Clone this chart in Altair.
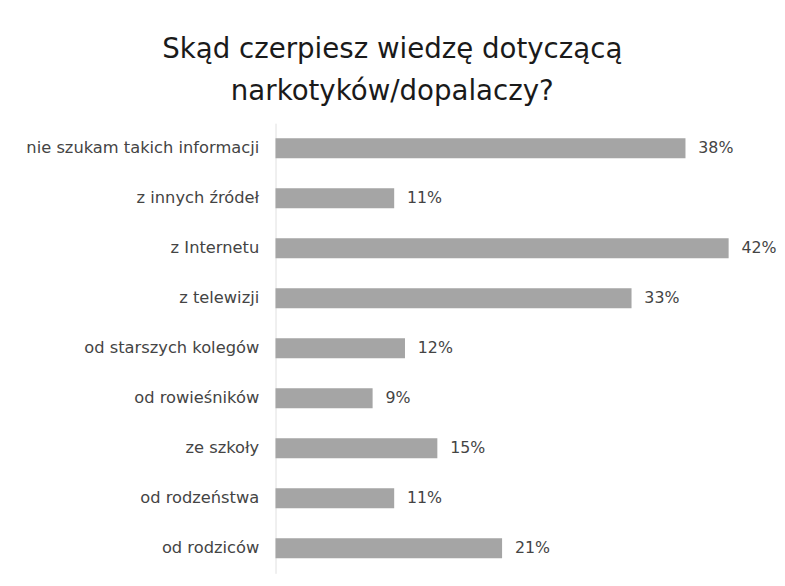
import altair as alt
import pandas as pd

categories = [
    "nie szukam takich informacji",
    "z innych źródeł",
    "z Internetu",
    "z telewizji",
    "od starszych kolegów",
    "od rowieśników",
    "ze szkoły",
    "od rodzeństwa",
    "od rodziców",
]
values = [38, 11, 42, 33, 12, 9, 15, 11, 21]

df = pd.DataFrame({"cat": categories, "val": values})
df["label"] = df["val"].astype(str) + "%"

FONT = "DejaVu Sans"

y = alt.Y(
    "cat:N",
    sort=categories,
    title=None,
    scale=alt.Scale(paddingInner=0.6, paddingOuter=0.3),
    axis=alt.Axis(
        ticks=False,
        domain=True,
        domainColor="#e0e0e0",
        labelPadding=17,
        labelFont=FONT,
        labelFontSize=16.5,
        labelColor="#444444",
        labelLimit=300,
        minExtent=271,
        maxExtent=271,
    ),
)
x = alt.X("val:Q", axis=None, scale=alt.Scale(domain=[0, 42], nice=False))

bars = alt.Chart(df).mark_bar(color="#a5a5a5").encode(x=x, y=y)
texts = alt.Chart(df).mark_text(
    align="left", dx=13, font=FONT, fontSize=16, color="#444444"
).encode(x=x, y=y, text="label:N")

chart = (
    (bars + texts)
    .properties(
        width=459,
        height=456,
        title=alt.TitleParams(
            text=["Skąd czerpiesz wiedzę dotyczącą", "narkotyków/dopalaczy?"],
            font=FONT,
            fontSize=28,
            fontWeight="normal",
            color="#1a1a1a",
            lineHeight=42,
            anchor="middle",
            frame="bounds",
            offset=18,
        ),
        padding={"left": 0, "top": 25, "right": 0, "bottom": 0},
    )
    .configure_view(stroke=None)
)

chart.save("out.html", embed_options={"renderer": "svg", "actions": False})
